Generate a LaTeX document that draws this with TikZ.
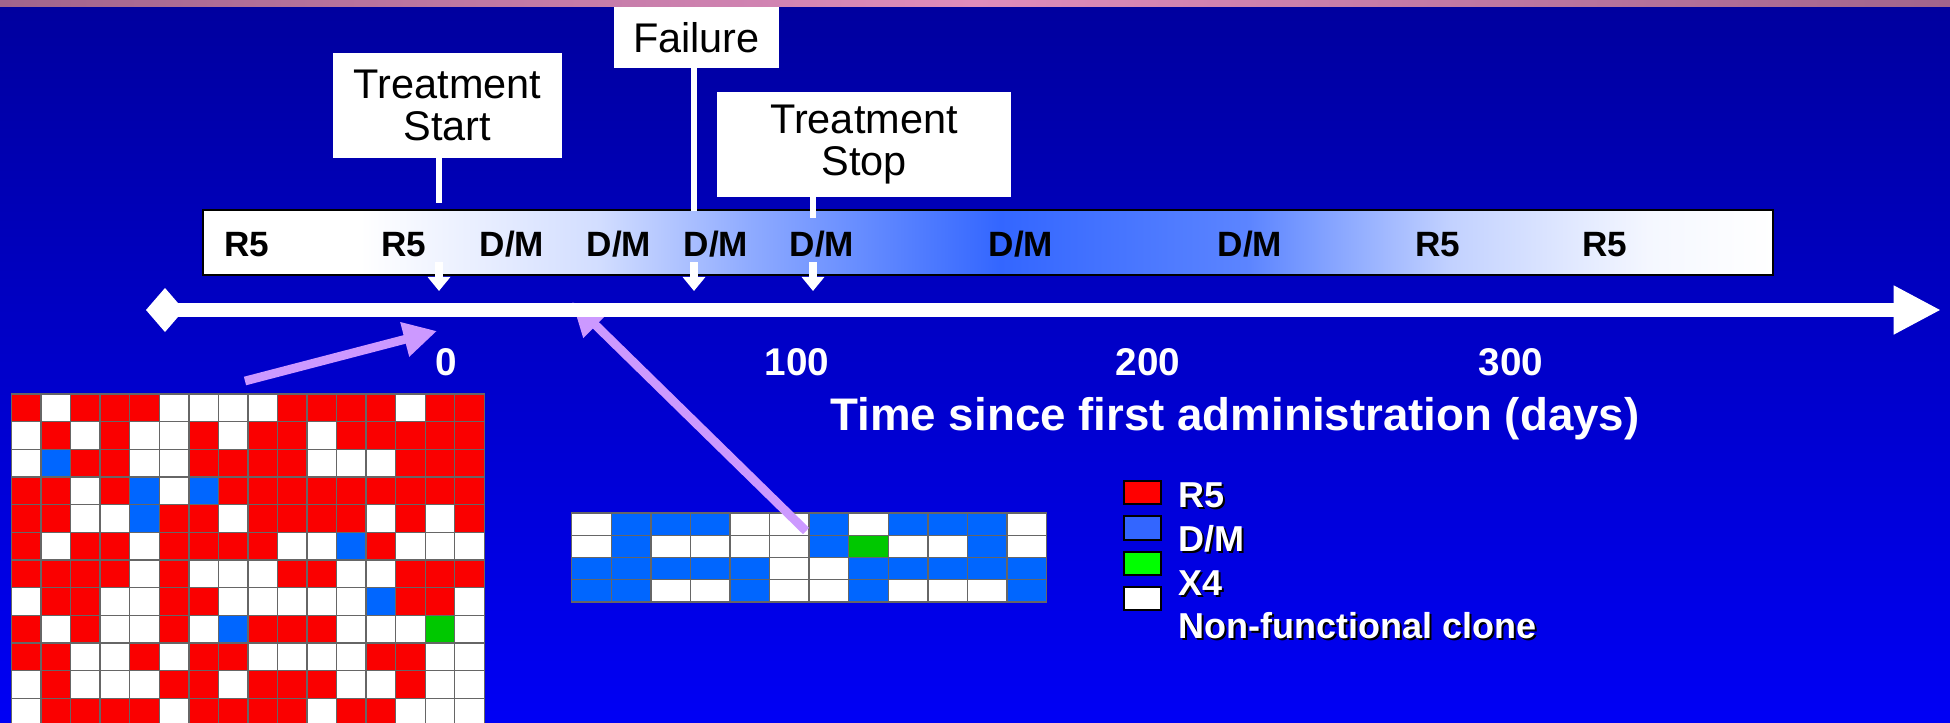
\documentclass[tikz,border=0pt]{standalone}
\usepackage{fontspec}
\setmainfont{Liberation Sans}
\usetikzlibrary{arrows.meta,calc,positioning}

\definecolor{bgtop}{RGB}{0,0,158}
\definecolor{bgbot}{RGB}{0,0,245}
\definecolor{bandedge}{RGB}{160,100,140}
\definecolor{bandmid}{RGB}{222,140,188}
\definecolor{barblue}{RGB}{51,102,255}
\definecolor{lilac}{RGB}{204,153,255}
\definecolor{cellR}{RGB}{250,0,0}
\definecolor{cellB}{RGB}{0,102,255}
\definecolor{cellG}{RGB}{0,200,0}
\definecolor{cellW}{RGB}{255,255,255}
\definecolor{keyR}{RGB}{255,0,0}
\definecolor{keyB}{RGB}{51,102,255}
\definecolor{keyG}{RGB}{0,255,0}
\definecolor{keyW}{RGB}{255,255,255}

\pgfdeclarehorizontalshading{barshade}{100bp}{color(0bp)=(white); color(30bp)=(white);
  color(37.6bp)=(barblue!22); color(42.4bp)=(barblue!55); color(50.4bp)=(barblue);
  color(58.3bp)=(barblue!80); color(64.7bp)=(barblue!30); color(71.1bp)=(barblue!5);
  color(75bp)=(white); color(100bp)=(white)}

% white text with a black drop shadow
\newcommand{\shadowed}[4]{%
  \node[#1,black] at ([shift={(2.5,2.5)}]#2) {#4};
  \node[#1,white] (#3) at (#2) {#4};}

\begin{document}
\begin{tikzpicture}[x=0.02cm,y=-0.02cm,
  cell/.style={draw=black!60,line width=0.8pt},
  callout/.style={fill=white,inner sep=0pt,align=center,font=\fontsize{23.6}{24}\selectfont},
  stem/.style={white,line width=3.4pt},
  barlabel/.style={anchor=base,font=\fontsize{20}{24}\bfseries\selectfont},
  ticklabel/.style={white,anchor=base,font=\fontsize{22}{26}\bfseries\selectfont},
  axislabel/.style={white,anchor=base,font=\fontsize{26}{30}\bfseries\selectfont},
  keybox/.style={draw=black,line width=1.1pt},
  keytext/.style={anchor=base west,font=\fontsize{20.5}{24}\bfseries\selectfont},
  pointer/.style={lilac,line width=5pt,-{Triangle[width=19pt,length=19pt]}},
  drop/.style={white,line width=5pt,-{Triangle[width=12.5pt,length=8pt]}}]

\useasboundingbox (0,0) rectangle (1950,723);
\clip (0,0) rectangle (1950,723);

% background
\shade[top color=bgtop,bottom color=bgbot] (0,0) rectangle (1950,723);
\shade[left color=bandedge,right color=bandedge,middle color=bandmid] (0,0) rectangle (1950,7);

% clones before treatment
\foreach \rw [count=\r from 0] in {
  {R,W,R,R,R,W,W,W,W,R,R,R,R,W,R,R},
  {W,R,W,R,W,W,R,W,R,R,W,R,R,R,R,R},
  {W,B,R,R,W,W,R,R,R,R,W,W,W,R,R,R},
  {R,R,W,R,B,W,B,R,R,R,R,R,R,R,R,R},
  {R,R,W,W,B,R,R,W,R,R,R,R,W,R,W,R},
  {R,W,R,R,W,R,R,R,R,W,W,B,R,W,W,W},
  {R,R,R,R,W,R,W,W,W,R,R,W,W,R,R,R},
  {W,R,R,W,W,R,R,W,W,W,W,W,B,R,R,W},
  {R,W,R,W,W,R,W,B,R,R,R,W,W,W,G,W},
  {R,R,W,W,R,W,R,R,W,W,W,W,R,R,W,W},
  {W,R,W,W,W,R,R,W,R,R,R,W,W,R,W,W},
  {W,R,R,R,R,W,R,R,R,R,W,R,R,W,W,W}}
  \foreach \cl [count=\k from 0] in \rw
    \draw[cell,fill=cell\cl] ({11.5+29.55*\k},{394+27.66*\r}) rectangle ++(29.55,27.66);

% clones during treatment
\foreach \rw [count=\r from 0] in {
  {W,B,B,B,W,W,B,W,B,B,B,W},
  {W,B,W,W,W,W,B,G,W,W,B,W},
  {B,B,B,B,B,W,W,B,B,B,B,B},
  {B,B,W,W,B,W,W,B,W,W,W,B}}
  \foreach \cl [count=\k from 0] in \rw
    \draw[cell,fill=cell\cl] ({571.7+39.58*\k},{513+22.25*\r}) rectangle ++(39.58,22.25);

% pointers from the samples to the time axis
\coordinate (p1s) at (245,381);
\coordinate (p1e) at (437,331);
\coordinate (p2s) at (806,531);
\coordinate (p2e) at (572,302);
\draw[pointer] (p1s) -- (p1e);
\draw[pointer] (p2s) -- (p2e);

% time axis
\coordinate (tail) at (165,310);
\coordinate (head) at (1941,310);
\draw[white,line width=8.5pt,-{Triangle[width=26pt,length=27pt]}] (tail) -- (head);
\fill[white] (146,310) -- (165,288) -- (184,310) -- (165,332) -- cycle;

% tropism bar
\node[draw=black,line width=1pt,shade,shading=barshade,inner sep=0pt,
  minimum width=31.4cm,minimum height=1.3cm] (bar) at (988,242.5) {};
\foreach \x/\t in {247/R5,404/R5,512/{D/M},619/{D/M},716/{D/M},822/{D/M},1021/{D/M},1250/{D/M},1438/R5,1605/R5}
  \node[barlabel] at (\x,256) {\t};

% events
\coordinate (ev1) at (439,262);
\coordinate (ev2) at (694,262);
\coordinate (ev3) at (813,262);
\draw[drop] (ev1) -- ++(0,29);
\draw[drop] (ev2) -- ++(0,29);
\draw[drop] (ev3) -- ++(0,29);

\node[callout,minimum width=4.58cm,minimum height=2.1cm] (start) at (447.5,105.5) {Treatment\\Start};
\node[callout,minimum width=3.3cm,minimum height=1.22cm] (fail) at (696.5,37.5) {Failure};
\node[callout,minimum width=5.88cm,minimum height=2.1cm] (stop) at (864,144.5) {Treatment\\Stop};
\draw[stem] (start.south -| ev1) -- ++(0,45);
\draw[stem] (fail.south -| ev2) -- ++(0,143);
\draw[stem] (stop.south -| ev3) -- ++(0,21);

% axis labels
\node[ticklabel] (t0) at (446,375) {0};
\node[ticklabel] (t100) at (797,375) {100};
\node[ticklabel] (t200) at (1148,375) {200};
\node[ticklabel] (t300) at (1511,375) {300};
\node[axislabel] (xlabel) at (1235,430) {Time since first administration (days)};

% legend
\draw[keybox,fill=keyR] (1124,481) rectangle (1161,504);
\draw[keybox,fill=keyB] (1124,516) rectangle (1161,540);
\draw[keybox,fill=keyG] (1124,552) rectangle (1161,575);
\draw[keybox,fill=keyW] (1124,587) rectangle (1161,610);
\shadowed{keytext}{1172,507}{kR}{R5}
\shadowed{keytext}{1172,551}{kB}{D/M}
\shadowed{keytext}{1172,595}{kG}{X4}
\shadowed{keytext}{1172,638}{kW}{Non-functional clone}
\end{tikzpicture}
\end{document}
